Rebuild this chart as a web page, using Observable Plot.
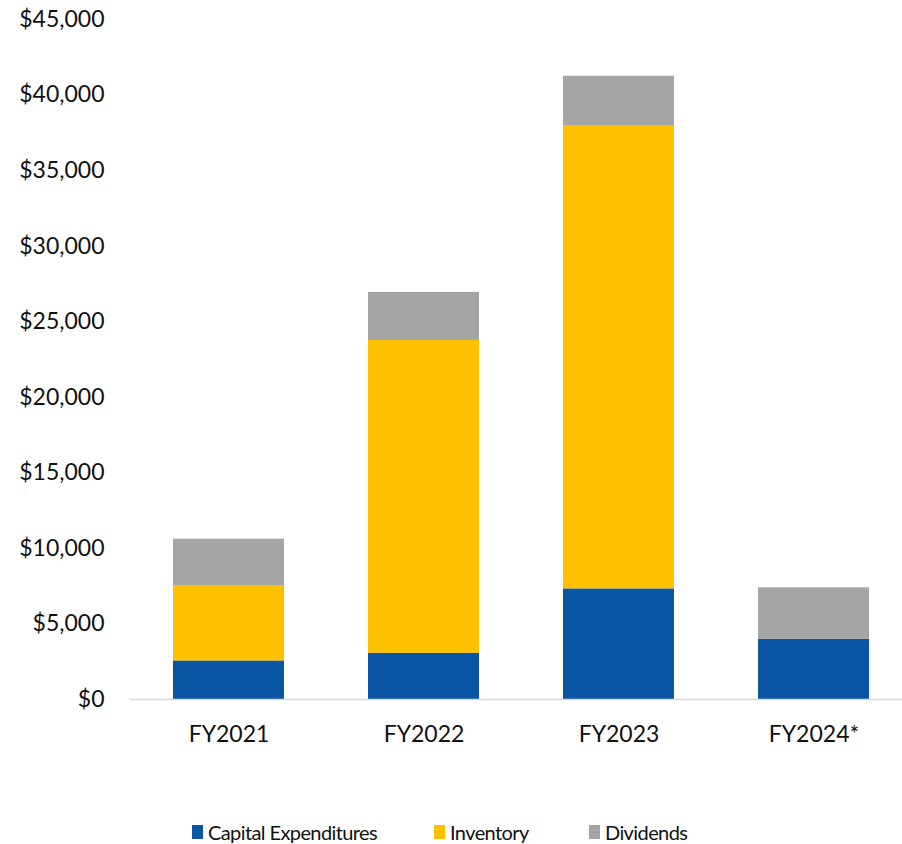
<!DOCTYPE html>
<html>
<head>
<meta charset="utf-8">
<script src="https://cdn.jsdelivr.net/npm/d3@7"></script>
<script src="https://cdn.jsdelivr.net/npm/@observablehq/plot@0.6"></script>
<style>
  html, body { margin: 0; padding: 0; background: #fff; }
  body { width: 902px; height: 844px; position: relative; font-family: Lato, "Open Sans", sans-serif; color: #111; }
  #chart { position: absolute; left: 0; top: 0; }
  .item { position: absolute; top: 820px; display: flex; align-items: center; font-size: 20px; line-height: 24px; letter-spacing: -0.6px; white-space: nowrap; }
  .sw { width: 11px; height: 14px; margin-right: 5px; }
</style>
</head>
<body>
<div id="chart"></div>
<div id="legend"></div>
<script>
const years = ["FY2021", "FY2022", "FY2023", "FY2024*"];
const series = ["Capital Expenditures", "Inventory", "Dividends"];
const capex = [2550, 3060, 7320, 3990];
const inventory = [4950, 20700, 30620, 0];
const dividends = [3110, 3180, 3310, 3400];
const yTicks = [0, 5000, 10000, 15000, 20000, 25000, 30000, 35000, 40000, 45000];
const colors = ["#0A56A4", "#FFC000", "#A5A5A5"];

const valuesBySeries = [capex, inventory, dividends];
const rows = [];
series.forEach((s, si) => {
  years.forEach((y, yi) => {
    rows.push({ year: y, series: s, value: valuesBySeries[si][yi] });
  });
});

const fmt = d3.format(",");
const chart = Plot.plot({
  width: 902,
  height: 760,
  marginTop: 19,
  marginBottom: 61,
  marginLeft: 130,
  marginRight: 0,
  style: { fontFamily: "Lato, 'Open Sans', sans-serif", fontSize: "23px", color: "#111", background: "#fff" },
  x: { domain: years, paddingInner: 0.43, paddingOuter: 0.16, insetLeft: 11, label: null, tickSize: 0, tickPadding: 26 },
  y: { domain: [0, 45000], ticks: yTicks, label: null, tickSize: 0, tickPadding: 26, tickFormat: d => "$" + fmt(d) },
  color: { domain: series, range: colors },
  marks: [
    Plot.barY(rows, Plot.stackY({ x: "year", y: "value", fill: "series", order: series })),
    Plot.ruleY([0], { stroke: "#D9D9D9", strokeWidth: 1.5 })
  ]
});
document.getElementById("chart").appendChild(chart);

const legend = document.getElementById("legend");
const lefts = [192, 434, 589];
series.forEach((s, i) => {
  const it = document.createElement("div");
  it.className = "item";
  it.style.left = lefts[i] + "px";
  const sw = document.createElement("span");
  sw.className = "sw";
  sw.style.background = colors[i];
  const tx = document.createElement("span");
  tx.textContent = s;
  it.appendChild(sw);
  it.appendChild(tx);
  legend.appendChild(it);
});
</script>
</body>
</html>
